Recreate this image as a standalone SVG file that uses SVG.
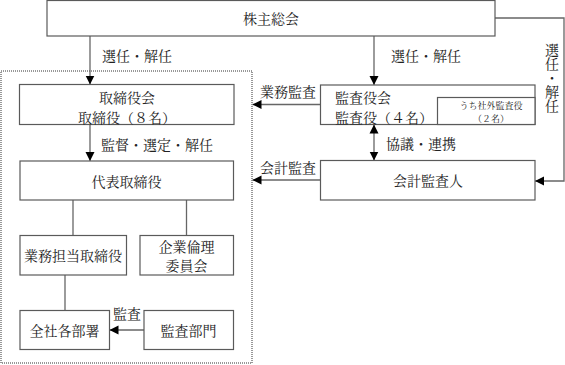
<svg xmlns="http://www.w3.org/2000/svg" width="565" height="365" viewBox="0 0 565 365">
<style>
.box{fill:#fff;stroke:#5a5a5a;stroke-width:1.2}
.ln{fill:none;stroke:#666;stroke-width:1.3}
text{font-family:"Noto Serif CJK JP","Noto Sans CJK JP",serif;font-size:14px;fill:#222;dominant-baseline:central}
.c{text-anchor:middle}
.s{font-size:9px}
.v{writing-mode:vertical-rl;text-orientation:upright;letter-spacing:0}
</style>
<defs>
<marker id="ah" viewBox="0 0 10 10" refX="10" refY="5" markerWidth="9" markerHeight="11" markerUnits="userSpaceOnUse" orient="auto-start-reverse">
<path d="M0,0 L10,5 L0,10 z" fill="#000"/>
</marker>
</defs>
<rect x="1" y="71" width="251" height="292" fill="none" stroke="#333" stroke-width="1" stroke-dasharray="1 1"/>
<g id="connectors">
<path class="ln" d="M90,36 V84.5" marker-end="url(#ah)"/>
<path class="ln" d="M374,36 V85" marker-end="url(#ah)"/>
<path class="ln" d="M495,18 H564 V181 H535" marker-end="url(#ah)"/>
<path class="ln" d="M90,124.5 V161" marker-end="url(#ah)"/>
<path class="ln" d="M320,104.5 H252.5" marker-end="url(#ah)"/>
<path class="ln" d="M320,180 H252.5" marker-end="url(#ah)"/>
<path class="ln" d="M374,124.5 V160.5" marker-start="url(#ah)" marker-end="url(#ah)"/>
<path class="ln" d="M73,200 V235.5"/>
<path class="ln" d="M186.5,200 V235.5"/>
<path class="ln" d="M65,275 V310.5"/>
<path class="ln" d="M144,330 H109.5" marker-end="url(#ah)"/>
<text class="c" x="137" y="55">選任・解任</text>
<text class="c" x="426" y="55">選任・解任</text>
<text class="v" x="552" y="43">選任・解任</text>
<text class="c" x="288" y="91">業務監査</text>
<text class="c" x="288" y="166.5">会計監査</text>
<text x="386" y="143">協議・連携</text>
<text x="101" y="144">監督・選定・解任</text>
<text class="c" x="127" y="313">監査</text>
</g>
<g id="shareholders">
<rect class="box" x="47" y="0.5" width="448" height="35.5"/>
<text class="c" x="271" y="18">株主総会</text>
</g>
<g id="board">
<rect class="box" x="19.5" y="84.5" width="214.5" height="40"/>
<text class="c"><tspan x="127" y="97">取締役会</tspan><tspan x="127" y="117">取締役（８名）</tspan></text>
</g>
<g id="auditors">
<rect class="box" x="320.5" y="85" width="214.5" height="39.5"/>
<text><tspan x="335" y="97">監査役会</tspan><tspan x="335" y="117">監査役（４名）</tspan></text>
<g id="outside-auditors">
<rect class="box" x="437.5" y="97.5" width="97.5" height="27"/>
<text class="c s"><tspan x="491" y="104.5">うち社外監査役</tspan><tspan x="491" y="117.5">（２名）</tspan></text>
</g>
</g>
<g id="accounting-auditor">
<rect class="box" x="320.5" y="160.5" width="214.5" height="39.5"/>
<text class="c" x="428" y="180">会計監査人</text>
</g>
<g id="representative">
<rect class="box" x="20" y="161" width="213.5" height="39"/>
<text class="c" x="126.5" y="181">代表取締役</text>
</g>
<g id="executive">
<rect class="box" x="20" y="235.5" width="106.5" height="39.5"/>
<text class="c" x="73" y="255">業務担当取締役</text>
</g>
<g id="ethics">
<rect class="box" x="140" y="235.5" width="93.5" height="39.5"/>
<text class="c"><tspan x="186.5" y="246">企業倫理</tspan><tspan x="186.5" y="265">委員会</tspan></text>
</g>
<g id="departments">
<rect class="box" x="20" y="310.5" width="89.5" height="39"/>
<text class="c" x="64.5" y="330">全社各部署</text>
</g>
<g id="audit-dept">
<rect class="box" x="144" y="310.5" width="89.5" height="39"/>
<text class="c" x="188.5" y="330">監査部門</text>
</g>
</svg>
